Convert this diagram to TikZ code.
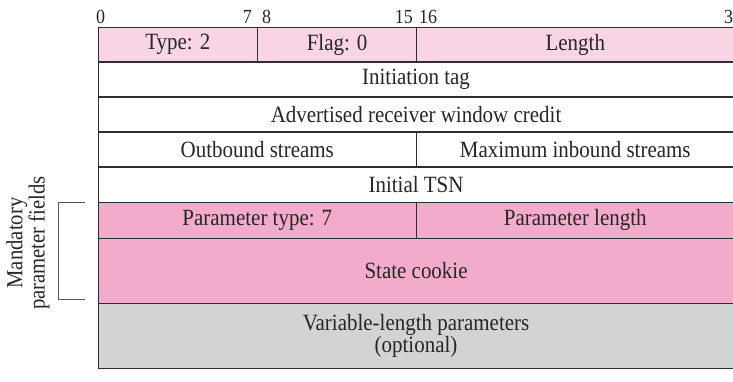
\documentclass[tikz,border=0pt]{standalone}
\usepackage{fontspec}
\setmainfont{Liberation Serif}[FakeStretch=0.9]
\definecolor{pinkL}{HTML}{F9D4E4}
\definecolor{pinkD}{HTML}{F3ABCB}
\definecolor{grayF}{HTML}{D1D3D4}
\definecolor{lineC}{HTML}{2E2E2E}
\begin{document}
\begin{tikzpicture}[x=1pt,y=-1pt,
  field/.style={draw=lineC,line width=1.1pt,rectangle,inner sep=0pt,anchor=north west,
    font=\fontsize{23.3}{22}\selectfont,text=black!85},
  bitnum/.style={inner sep=0pt,font=\fontsize{20}{18}\selectfont,text=black!85},
  brk/.style={draw=black!65,line width=1pt}]
\useasboundingbox (0,0) rectangle (733,382);
% row 1
\node[field,fill=pinkL,minimum width=159.5pt,minimum height=34.5pt] (type) at (97.5,27) {Type: 2};
\node[field,fill=pinkL,minimum width=159pt,minimum height=34.5pt] (flag) at (257,27) {Flag: 0};
\node[field,fill=pinkL,minimum width=317.5pt,minimum height=34.5pt] (len) at (416,27) {Length};
% row 2-3
\node[field,fill=white,minimum width=636pt,minimum height=35pt] (tag) at (97.5,61.5) {Initiation tag};
\node[field,fill=white,minimum width=636pt,minimum height=35pt] (arwc) at (97.5,96.5) {Advertised receiver window credit};
% row 4
\node[field,fill=white,minimum width=318.5pt,minimum height=35pt] (out) at (97.5,131.5) {Outbound streams};
\node[field,fill=white,minimum width=317.5pt,minimum height=35pt] (inb) at (416,131.5) {Maximum inbound streams};
% row 5
\node[field,fill=white,minimum width=636pt,minimum height=35.5pt] (tsn) at (97.5,166.5) {Initial TSN};
% row 6
\node[field,fill=pinkD,minimum width=318.5pt,minimum height=35.5pt] (ptype) at (97.5,202) {Parameter type: 7};
\node[field,fill=pinkD,minimum width=317.5pt,minimum height=35.5pt] (plen) at (416,202) {Parameter length};
% row 7
\node[field,fill=pinkD,minimum width=636pt,minimum height=65pt] (cookie) at (97.5,237.5) {State cookie};
% row 8
\node[field,fill=grayF,minimum width=636pt,minimum height=65.5pt,align=center,
  font=\fontsize{23.3}{16}\selectfont] (var) at (97.5,302.5) {Variable-length parameters\\(optional)};
% bit numbers
\node[bitnum,anchor=base west] (b0) at (96,23.5) {0};
\node[bitnum,anchor=base east] (b7) at (252,23.5) {7};
\node[bitnum,anchor=base west] (b8) at (262,23.5) {8};
\node[bitnum,anchor=base east] (b15) at (413,23.5) {15};
\node[bitnum,anchor=base west] (b16) at (419,23.5) {16};
\node[bitnum,anchor=base west] (b31) at (724,23.5) {31};
% bracket
\coordinate (bt) at (85,202.5);
\coordinate (bb) at (85,299.5);
\draw[brk] (bt) -- (58.5,202.5) -- (58.5,299.5) -- (bb);
\node[rotate=90,align=center,inner sep=0pt,font=\fontsize{23}{20}\selectfont,text=black!85] (lbl) at (28,243) {Mandatory\\parameter fields};
\end{tikzpicture}
\end{document}
